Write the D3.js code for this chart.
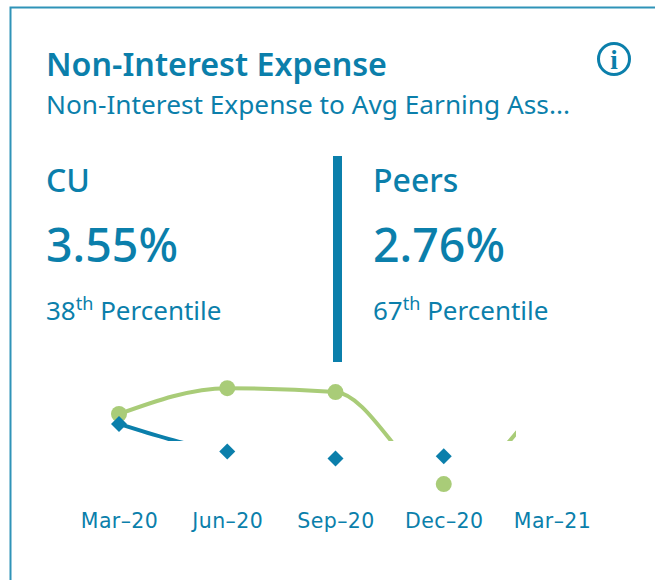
<!DOCTYPE html>
<html>
<head>
<meta charset="utf-8">
<script src="https://cdn.jsdelivr.net/npm/d3@7"></script>
<style>
  html, body { margin: 0; padding: 0; background: #fff; overflow: hidden; }
  text { font-family: "Noto Sans", "Open Sans", sans-serif; fill: #0b7fab; }
  .tick text { font-family: "DejaVu Sans", sans-serif; letter-spacing: 0.4px; }
</style>
</head>
<body>
<div id="chart"></div>
<script>
const months = ["Mar\u201320", "Jun\u201320", "Sep\u201320", "Dec\u201320", "Mar\u201321"];
const cuValues = [4.46, 3.68, 3.48, 3.55, 3.6];
const peerValues = [4.74, 5.47, 5.36, 2.76, 5.5];

const blue = "#0b7fab";
const green = "#a9cc78";

const width = 655;
const height = 580;

const svg = d3.select("#chart")
  .append("svg")
  .attr("width", width)
  .attr("height", height);

// card border, only the top and left edges are in the frame
svg.append("path")
  .attr("d", "M10.5,580V7.5H655")
  .attr("fill", "none")
  .attr("stroke", "#2f93b8")
  .attr("stroke-width", 2);

svg.append("text")
  .attr("x", 46)
  .attr("y", 76)
  .attr("font-size", 32)
  .attr("font-weight", 600)
  .attr("textLength", 341)
  .attr("lengthAdjust", "spacingAndGlyphs")
  .text("Non-Interest Expense");

svg.append("text")
  .attr("x", 46)
  .attr("y", 114)
  .attr("font-size", 25.5)
  .attr("textLength", 524)
  .attr("lengthAdjust", "spacingAndGlyphs")
  .text("Non-Interest Expense to Avg Earning Ass...");

// info icon
svg.append("circle")
  .attr("cx", 614)
  .attr("cy", 59)
  .attr("r", 15.5)
  .attr("fill", "none")
  .attr("stroke", blue)
  .attr("stroke-width", 3);

svg.append("text")
  .attr("x", 614)
  .attr("y", 69)
  .attr("text-anchor", "middle")
  .attr("font-size", 27)
  .attr("font-weight", 700)
  .style("font-family", "'Liberation Serif', serif")
  .text("i");

// divider
svg.append("rect")
  .attr("x", 333)
  .attr("y", 156)
  .attr("width", 9)
  .attr("height", 206)
  .attr("fill", blue);

function statBlock(x, name, value, rank) {
  svg.append("text")
    .attr("x", x)
    .attr("y", 192)
    .attr("font-size", 32)
    .attr("font-weight", 500)
    .text(name);

  svg.append("text")
    .attr("x", x)
    .attr("y", 262)
    .attr("font-size", 46.5)
    .attr("font-weight", 500)
    .text(value);

  const label = svg.append("text")
    .attr("x", x)
    .attr("y", 320)
    .attr("font-size", 26);
  label.append("tspan").text(rank);
  label.append("tspan")
    .attr("font-size", 18)
    .attr("dy", -10)
    .text("th");
  label.append("tspan")
    .attr("dy", 10)
    .text(" Percentile");
}

statBlock(46, "CU", "3.55%", "38");
statBlock(373, "Peers", "2.76%", "67");

const xScale = d3.scalePoint()
  .domain(months)
  .range([119, 552]);

const yScale = d3.scaleLinear()
  .domain([2, 6])
  .range([511, 369.4]);

const xAxis = d3.axisBottom(xScale).tickSize(0).tickPadding(0);

const x_axis = svg.append("g")
  .attr("transform", "translate(0,513)")
  .call(xAxis);
x_axis.select(".domain").remove();
x_axis.selectAll("text")
  .attr("font-size", 20.5)
  .style("fill", blue);

// the plot is caught half drawn: lines stop at these clip edges
const defs = svg.append("defs");
defs.append("clipPath")
  .attr("id", "line-clip")
  .append("rect")
  .attr("x", 90)
  .attr("y", 360)
  .attr("width", 426)
  .attr("height", 81);
defs.append("clipPath")
  .attr("id", "dot-clip")
  .append("rect")
  .attr("x", 90)
  .attr("y", 360)
  .attr("width", 426)
  .attr("height", 150);

const line = d3.line()
  .x((d, i) => xScale(months[i]))
  .y(d => yScale(d))
  .curve(d3.curveMonotoneX);

svg.append("path")
  .attr("clip-path", "url(#line-clip)")
  .attr("d", line(peerValues))
  .attr("fill", "none")
  .attr("stroke", green)
  .attr("stroke-width", 4);

svg.append("path")
  .attr("clip-path", "url(#line-clip)")
  .attr("d", line(cuValues))
  .attr("fill", "none")
  .attr("stroke", blue)
  .attr("stroke-width", 4);

svg.append("g")
  .attr("clip-path", "url(#dot-clip)")
  .selectAll("circle")
  .data(peerValues)
  .enter()
  .append("circle")
  .attr("cx", (d, i) => xScale(months[i]))
  .attr("cy", d => yScale(d))
  .attr("r", 8)
  .attr("fill", green);

svg.append("g")
  .attr("clip-path", "url(#dot-clip)")
  .selectAll("path")
  .data(cuValues)
  .enter()
  .append("path")
  .attr("d", d3.symbol().type(d3.symbolSquare).size(128))
  .attr("transform", (d, i) => `translate(${xScale(months[i])},${yScale(d)}) rotate(45)`)
  .attr("fill", blue);
</script>
</body>
</html>
